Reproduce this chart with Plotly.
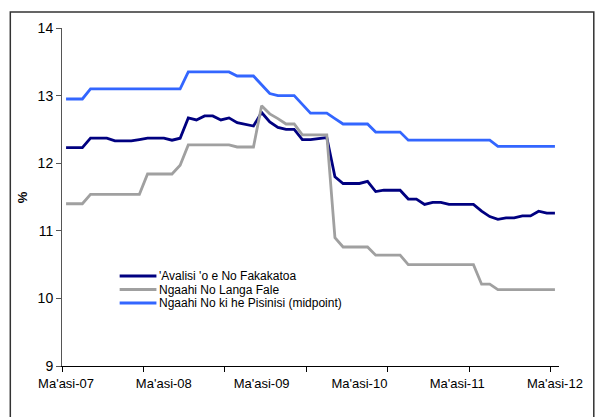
import plotly.graph_objects as go

# Monthly observations, March 2007 to March 2012
months = list(range(61))
tick_labels = ["Ma'asi-07", "Ma'asi-08", "Ma'asi-09", "Ma'asi-10", "Ma'asi-11", "Ma'asi-12"]
tick_positions = [0, 12, 24, 36, 48, 60]

names = ["'Avalisi 'o e No Fakakatoa",
         "Ngaahi No Langa Fale",
         "Ngaahi No ki he Pisinisi (midpoint)"]

avalisi = [12.23, 12.23, 12.23, 12.37, 12.37, 12.37, 12.33, 12.33, 12.33, 12.35,
           12.37, 12.37, 12.37, 12.34, 12.37, 12.67, 12.64, 12.70, 12.70, 12.64,
           12.67, 12.60, 12.58, 12.55, 12.75, 12.61, 12.53, 12.50, 12.50, 12.35,
           12.35, 12.37, 12.38, 11.80, 11.70, 11.70, 11.70, 11.73, 11.58, 11.60,
           11.60, 11.60, 11.47, 11.47, 11.39, 11.42, 11.42, 11.39, 11.39, 11.39,
           11.39, 11.29, 11.21, 11.17, 11.19, 11.19, 11.22, 11.22, 11.29, 11.26,
           11.26]

langa_fale = ([11.40] * 3 + [11.54] * 7 + [11.84] * 4 + [11.97] + [12.27] * 6 +
              [12.24] * 3 + [12.85, 12.73, 12.66, 12.58, 12.58] + [12.42] * 4 +
              [10.90] + [10.76] * 4 + [10.64] * 4 + [10.50] * 9 + [10.21] * 2 +
              [10.13] * 8)

pisinisi = ([12.95] * 3 + [13.10] * 12 + [13.35] * 6 + [13.29] * 3 +
            [13.16, 13.03] + [13.00] * 3 + [12.87] + [12.74] * 3 + [12.66] +
            [12.58] * 4 + [12.46] * 4 + [12.34] * 11 + [12.25] * 8)

colors = ["#000080", "#A0A0A0", "#3366FF"]
series = [avalisi, langa_fale, pisinisi]

W, H = 595, 417
L, R, T, B = 62, 33, 28, 51
pw, ph = W - L - R, H - T - B


def px_x(p):
    return (p - L) / pw


def px_y(p):
    return (H - B - p) / ph


fig = go.Figure()
for name, vals, col in zip(names, series, colors):
    fig.add_trace(go.Scatter(x=months, y=vals, mode="lines", name=name,
                             line=dict(color=col, width=2.8), showlegend=False))

shapes = [
    # outer chart frame
    dict(type="rect", xref="paper", yref="paper",
         x0=px_x(10), x1=px_x(597), y0=px_y(425), y1=px_y(12),
         line=dict(color="#333333", width=1.5), fillcolor="rgba(0,0,0,0)"),
]
annotations = [
    dict(text="<b>%</b>", xref="paper", yref="paper", x=px_x(22), y=px_y(197),
         showarrow=False, textangle=-90, font=dict(size=13, color="black"),
         xanchor="center", yanchor="middle"),
]

# legend drawn as line samples with labels
legend_rows = [276, 289.5, 303]
for name, col, ry in zip(names, colors, legend_rows):
    shapes.append(dict(type="line", xref="paper", yref="paper",
                       x0=px_x(120), x1=px_x(157), y0=px_y(ry), y1=px_y(ry),
                       line=dict(color=col, width=2.8)))
    annotations.append(dict(text=name, xref="paper", yref="paper",
                            x=px_x(159), y=px_y(ry), showarrow=False,
                            xanchor="left", yanchor="middle", borderpad=0,
                            font=dict(size=12, color="black")))

fig.update_layout(
    width=W, height=H,
    margin=dict(l=L, r=R, t=T, b=B, pad=0),
    paper_bgcolor="white", plot_bgcolor="white",
    font=dict(family="Liberation Sans, Arial, sans-serif", size=13, color="black"),
    shapes=shapes, annotations=annotations,
    xaxis=dict(range=[-0.5, 60.5], tickmode="array", tickvals=tick_positions,
               ticktext=tick_labels, ticks="", showgrid=False, zeroline=False,
               showline=True, linecolor="black", linewidth=1,
               ticklabelstandoff=5, tickfont=dict(size=13),
               minor=dict(tickmode="array",
                          tickvals=[-0.5 + 10 * k for k in range(7)],
                          ticks="outside", ticklen=5, tickcolor="black",
                          tickwidth=1, showgrid=False)),
    yaxis=dict(range=[9, 14], dtick=1, tick0=9, ticks="outside", ticklen=5,
               tickcolor="#555555", showgrid=False, zeroline=False,
               tickfont=dict(size=14),
               showline=True, linecolor="#555555", linewidth=1),
)

fig.write_html("out.html")
